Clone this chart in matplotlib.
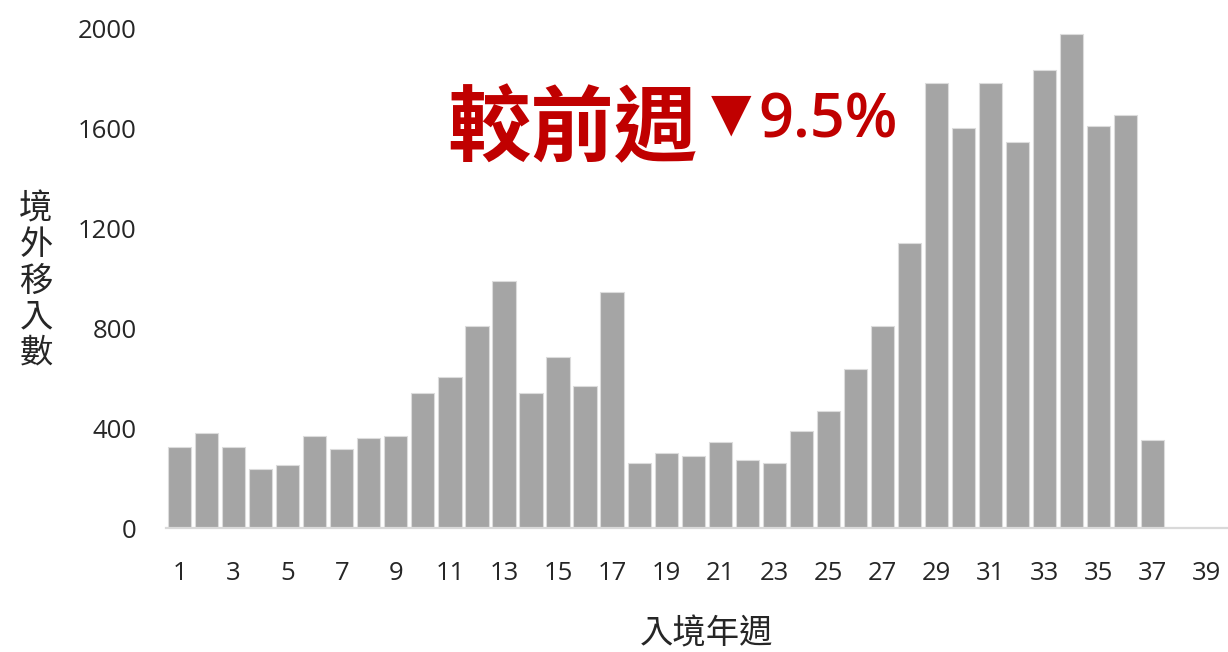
import matplotlib
matplotlib.use("Agg")
import matplotlib.pyplot as plt

plt.rcParams['font.family'] = ['Noto Sans CJK TC', 'DejaVu Sans']

weeks = list(range(1, 38))
values = [325, 379, 325, 235, 253, 369, 315, 361, 369, 541,
          604, 811, 991, 541, 684, 568, 945, 261, 299, 289,
          343, 271, 261, 387, 469, 639, 811, 1144, 1784, 1603,
          1784, 1549, 1837, 1981, 1612, 1657, 352]
xticks = list(range(1, 40, 2))
yticks = [0, 400, 800, 1200, 1600, 2000]
ylabel_text = "境外移入數"
xlabel_text = "入境年週"
title_main = "較前週"
title_arrow = "▼"
title_change = "9.5%"

W, H = 1228, 652
fig = plt.figure(figsize=(W / 100, H / 100), dpi=100)
ax = fig.add_axes([166 / W, 1 - 528 / H, 1 - 166 / W, (528 - 29) / H])

ax.bar(weeks, values, width=0.86, color="#a5a5a5", edgecolor="#dcdcdc", linewidth=0.8)
ax.set_xlim(0.5, 39.78)
ax.set_ylim(0, 2000)
ax.set_xticks(xticks)
ax.set_yticks(yticks)
ax.tick_params(axis='both', length=0, labelsize=18.5, colors="#262626")
ax.tick_params(axis='y', pad=21)
ax.tick_params(axis='x', pad=24)
for lab in ax.get_xticklabels() + ax.get_yticklabels():
    lab.set_fontfamily(['Open Sans', 'DejaVu Sans'])
for s in ['top', 'right', 'left']:
    ax.spines[s].set_visible(False)
ax.spines['bottom'].set_color("#d9d9d9")
ax.spines['bottom'].set_linewidth(1.6)

fig.text(36 / W, 1 - 281 / H, "\n".join(ylabel_text), ha='center', va='center',
         fontsize=24, color="#262626", linespacing=1.04)
fig.text(707 / W, 1 - 634 / H, xlabel_text, ha='center', va='center',
         fontsize=24, color="#262626")

fig.text(447 / W, 1 - 131 / H, title_main, ha='left', va='center',
         fontsize=60, fontweight='bold', color="#C00000")
fig.text(731 / W, 1 - 114 / H, title_arrow, ha='center', va='center',
         fontsize=38, color="#C00000", family=['DejaVu Sans'])
fig.text(758 / W, 1 - 137 / H, title_change, ha='left', va='baseline',
         fontsize=44, fontweight='semibold', color="#C00000",
         family=['Open Sans', 'DejaVu Sans'])

fig.savefig("out.png", dpi=100)
